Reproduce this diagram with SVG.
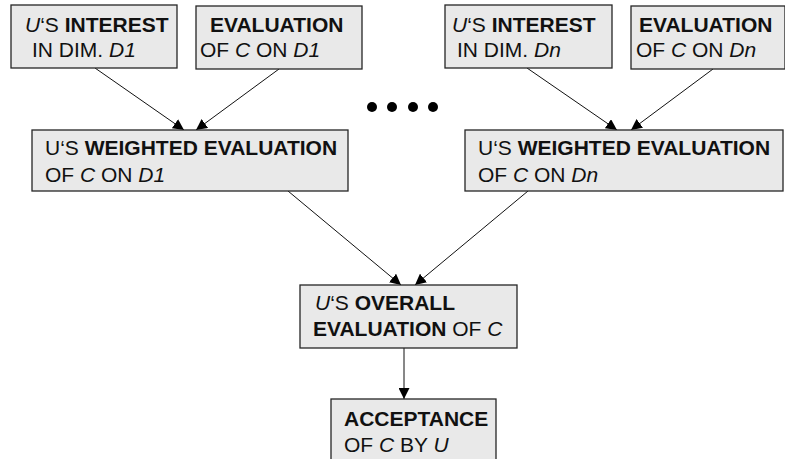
<svg xmlns="http://www.w3.org/2000/svg" width="785" height="459" viewBox="0 0 785 459">
  <style>
    .box { fill: #e9e9e9; stroke: #262626; stroke-width: 1.3; }
    .t { font-family: "Liberation Sans", Arial, sans-serif; font-size: 21px; fill: #111; }
    .b { font-weight: bold; }
    .i { font-style: italic; }
    .edge { stroke: #111; stroke-width: 1; fill: none; marker-end: url(#arrow); }
  </style>
  <defs>
    <marker id="arrow" markerUnits="userSpaceOnUse" markerWidth="11" markerHeight="11" refX="11" refY="5.5" orient="auto">
      <path d="M0,0 L11,5.5 L0,11 z" fill="#000"/>
    </marker>
  </defs>

  <rect width="785" height="459" fill="#fff"/>

  <!-- connectors -->
  <g id="connectors">
    <line class="edge" x1="95" y1="68" x2="184" y2="130"/>
    <line class="edge" x1="279" y1="69" x2="196" y2="130"/>
    <line class="edge" x1="527" y1="68" x2="617" y2="130"/>
    <line class="edge" x1="713" y1="69" x2="631" y2="130"/>
    <line class="edge" x1="288" y1="191" x2="401" y2="285"/>
    <line class="edge" x1="528" y1="191" x2="415" y2="285"/>
    <line class="edge" x1="404" y1="348" x2="404" y2="399"/>
  </g>

  <!-- ellipsis between dimension columns -->
  <g id="ellipsis" fill="#000">
    <circle cx="372" cy="107" r="5"/>
    <circle cx="392" cy="107" r="5"/>
    <circle cx="413" cy="107" r="5"/>
    <circle cx="433" cy="107" r="5"/>
  </g>

  <g id="interest-d1">
    <rect class="box" x="11" y="5" width="166" height="63"/>
    <text class="t" x="25" y="32"><tspan class="i">U</tspan>‘S <tspan class="b">INTEREST</tspan></text>
    <text class="t" x="32" y="57">IN DIM. <tspan class="i">D1</tspan></text>
  </g>

  <g id="evaluation-d1">
    <rect class="box" x="196" y="6" width="166" height="63"/>
    <text class="t b" x="210" y="32">EVALUATION</text>
    <text class="t" x="200" y="57">OF <tspan class="i">C</tspan> ON <tspan class="i">D1</tspan></text>
  </g>

  <g id="interest-dn">
    <rect class="box" x="445" y="5" width="167" height="63"/>
    <text class="t" x="452" y="32"><tspan class="i">U</tspan>‘S <tspan class="b">INTEREST</tspan></text>
    <text class="t" x="457" y="57">IN DIM. <tspan class="i">Dn</tspan></text>
  </g>

  <g id="evaluation-dn">
    <rect class="box" x="631" y="6" width="154" height="63"/>
    <text class="t b" x="639" y="32">EVALUATION</text>
    <text class="t" x="636" y="57">OF <tspan class="i">C</tspan> ON <tspan class="i">Dn</tspan></text>
  </g>

  <g id="weighted-d1">
    <rect class="box" x="32" y="130" width="316" height="61"/>
    <text class="t" x="45" y="155">U‘S <tspan class="b">WEIGHTED EVALUATION</tspan></text>
    <text class="t" x="45" y="182">OF <tspan class="i">C</tspan> ON <tspan class="i">D1</tspan></text>
  </g>

  <g id="weighted-dn">
    <rect class="box" x="465" y="130" width="318" height="61"/>
    <text class="t" x="478" y="155">U‘S <tspan class="b">WEIGHTED EVALUATION</tspan></text>
    <text class="t" x="478" y="182">OF <tspan class="i">C</tspan> ON <tspan class="i">Dn</tspan></text>
  </g>

  <g id="overall">
    <rect class="box" x="300" y="285" width="217" height="63"/>
    <text class="t" x="315" y="310"><tspan class="i">U</tspan>‘S <tspan class="b">OVERALL</tspan></text>
    <text class="t" x="313" y="336"><tspan class="b">EVALUATION</tspan> OF <tspan class="i">C</tspan></text>
  </g>

  <g id="acceptance">
    <rect class="box" x="331" y="399" width="165" height="70"/>
    <text class="t b" x="344" y="426">ACCEPTANCE</text>
    <text class="t" x="344" y="452">OF <tspan class="i">C</tspan> BY <tspan class="i">U</tspan></text>
  </g>
</svg>
